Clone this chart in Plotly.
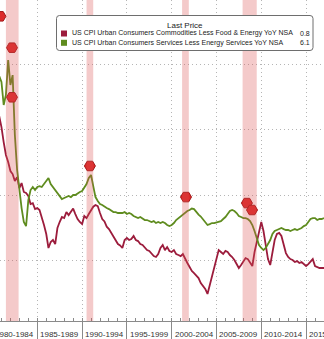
import pandas as pd
import plotly.graph_objects as go

# Quarterly observations, Q4 1980 through Q1 2017
quarters = pd.date_range("1980-10-01", periods=146, freq="QS")

# US CPI commodities less food & energy, YoY %
core_goods = [
    11.06, 10.22, 9.07, 8.08, 7.54, 6.85, 6.62, 6.09, 6.39, 5.55,
    5.93, 5.25, 5.17, 4.94, 4.33, 4.40, 3.94, 4.02, 3.87, 3.37,
    2.72, 2.03, 0.96, 1.42, 1.57, 1.26, 2.49, 2.95, 3.33, 3.25,
    3.71, 3.48, 3.74, 3.98, 3.56, 3.18, 2.95, 2.79, 3.41, 3.25,
    3.56, 3.87, 4.12, 4.25, 4.17, 3.64, 3.18, 2.99, 2.59, 2.41,
    2.11, 1.82, 1.53, 1.26, 1.15, 0.96, 1.57, 1.72, 1.57, 1.65,
    1.88, 1.57, 1.49, 1.26, 1.19, 0.96, 0.80, 0.73, 0.57, 0.34,
    0.27, 0.50, 0.96, 1.19, 0.80, 1.03, 0.73, 0.65, 0.80, 0.50,
    0.42, 0.34, 0.50, 0.11, -0.19, -0.50, -0.80, -0.96, -1.19, -1.34,
    -1.72, -1.95, -2.18, -2.56, -1.88, -1.11, -0.57, 0.19, 0.80, 0.65,
    0.50, 0.73, 0.65, 0.42, 0.27, 0.04, -0.27, -0.57, -0.34, -0.04,
    0.19, 0.11, -0.11, -0.42, 0.65, 1.49, 2.34, 2.95, 2.26, 1.26,
    0.11, -0.34, 0.80, 1.57, 2.03, 2.11, 1.88, 1.26, 0.57, 0.27,
    0.11, 0.04, -0.11, -0.04, -0.19, -0.11, -0.27, -0.42, -0.27, -0.11,
    0.11, -0.42, -0.50, -0.57, -0.57, -0.57,
]

# US CPI services less energy services, YoY %
core_services = [
    14.13, 13.67, 11.91, 12.67, 15.35, 13.44, 14.20, 9.61, 6.93, 5.40,
    4.02, 2.95, 2.64, 4.63, 5.40, 5.63, 5.40, 5.63, 5.70, 5.63,
    5.86, 6.09, 6.32, 5.86, 5.63, 5.40, 5.17, 4.86, 4.71, 4.79,
    4.86, 4.94, 4.86, 5.02, 5.02, 5.17, 5.25, 5.32, 5.55, 5.86,
    6.32, 6.55, 5.70, 4.86, 4.56, 4.33, 4.25, 4.10, 4.02, 3.94,
    3.79, 3.71, 3.71, 3.64, 3.64, 3.64, 3.71, 3.56, 3.64, 3.56,
    3.41, 3.33, 3.25, 3.33, 3.18, 3.10, 3.10, 3.02, 2.95, 3.02,
    2.87, 2.95, 2.87, 2.95, 2.87, 2.72, 2.64, 2.72, 2.87, 3.10,
    3.25, 3.41, 3.56, 3.71, 3.79, 3.87, 3.98, 3.94, 3.71, 3.52,
    3.37, 3.18, 2.95, 2.72, 2.79, 2.87, 2.87, 2.91, 2.95, 3.02,
    3.18, 3.33, 3.56, 3.79, 3.87, 3.79, 3.64, 3.41, 3.33, 3.25,
    3.25, 3.18, 3.02, 2.72, 2.26, 1.65, 1.19, 0.96, 0.80, 0.96,
    1.26, 1.57, 2.03, 2.26, 2.34, 2.41, 2.49, 2.41, 2.34, 2.34,
    2.26, 2.34, 2.41, 2.34, 2.41, 2.49, 2.64, 2.72, 2.95, 3.18,
    3.25, 3.25, 3.10, 3.18, 3.18, 3.25,
]

series_names = [
    "US CPI Urban Consumers Commodities Less Food & Energy YoY NSA",
    "US CPI Urban Consumers Services Less Energy Services YoY NSA",
]
last_values = ["0.8", "6.1"]

# NBER recessions
recession_starts = ["1980-01-01", "1981-07-01", "1990-07-01", "2001-03-01", "2007-12-01"]
recession_ends = ["1980-07-31", "1982-11-30", "1991-03-31", "2001-11-30", "2009-06-30"]

# Event flags on the chart
event_dates = ["1980-11-20", "1982-03-05", "1982-03-05", "1990-11-15",
               "2001-08-07", "2008-05-25", "2008-12-20"]
event_levels = [18.7, 16.3, 12.5, 7.24, 4.86, 4.40, 3.87]

period_starts = [1980, 1985, 1990, 1995, 2000, 2005, 2010, 2015]
period_labels = ["1980-1984", "1985-1989", "1990-1994", "1995-1999",
                 "2000-2004", "2005-2009", "2010-2014", "2015-2019"]

RED = "#9c1c3c"
GREEN = "#5f8c1f"
GRID = "#b5b5b5"
AXIS = "#8a8a8a"
FONT = "Liberation Sans, Arial, sans-serif"

W, H = 324, 339
BOTTOM = 18
PLOT_H = H - BOTTOM
X0, X1 = pd.Timestamp("1980-11-02"), pd.Timestamp("2017-01-01")
Y0, Y1 = -4.63, 19.95


def px(x):
    return x / W


def py(y):
    return (PLOT_H - y) / PLOT_H


fig = go.Figure()
fig.add_trace(go.Scatter(x=quarters, y=core_goods, mode="lines",
                         line=dict(color=RED, width=1.8), hoverinfo="skip"))
fig.add_trace(go.Scatter(x=quarters, y=core_services, mode="lines",
                         line=dict(color=GREEN, width=1.8), hoverinfo="skip"))
fig.add_trace(go.Scatter(x=pd.to_datetime(event_dates), y=event_levels, mode="markers",
                         marker=dict(symbol="hexagon2", size=11, color="#dc2a2a",
                                     line=dict(color="#a01818", width=1)),
                         hoverinfo="skip"))

shapes = []
for s, e in zip(recession_starts, recession_ends):
    shapes.append(dict(type="rect", xref="x", yref="paper", x0=s, x1=e, y0=0, y1=1,
                       fillcolor="rgba(220,80,80,0.3)", line=dict(width=0), layer="above"))

# Legend box
lx0, lx1, ly0, ly1, r = 56.5, 313, 15.5, 50.5, 3
rx, ry = r / W, r / PLOT_H
bx0, bx1, by0, by1 = px(lx0), px(lx1), py(ly1), py(ly0)
path = (f"M {bx0+rx},{by1} L {bx1-rx},{by1} Q {bx1},{by1} {bx1},{by1-ry} "
        f"L {bx1},{by0+ry} Q {bx1},{by0} {bx1-rx},{by0} L {bx0+rx},{by0} "
        f"Q {bx0},{by0} {bx0},{by0+ry} L {bx0},{by1-ry} Q {bx0},{by1} {bx0+rx},{by1} Z")
shapes.append(dict(type="path", xref="paper", yref="paper", path=path,
                   fillcolor="white", line=dict(color="#6e6e6e", width=1), layer="above"))

annotations = [dict(x=px(185.3), y=py(25), xref="paper", yref="paper", text="Last Price",
                    showarrow=False, xanchor="center", yanchor="middle",
                    font=dict(family=FONT, size=8, color="#222222"))]
for k, (name, val, col) in enumerate(zip(series_names, last_values, [RED, GREEN])):
    top = 30.5 + k * 9.3
    shapes.append(dict(type="rect", xref="paper", yref="paper",
                       x0=px(61), x1=px(67), y0=py(top + 6), y1=py(top),
                       fillcolor=col, line=dict(width=0), layer="above"))
    annotations.append(dict(x=px(70), y=py(top + 3), xref="paper", yref="paper", text=name,
                            showarrow=False, xanchor="left", yanchor="middle",
                            font=dict(family=FONT, size=7, color="#222222")))
    annotations.append(dict(x=px(311.5), y=py(top + 3), xref="paper", yref="paper", text=val,
                            showarrow=False, xanchor="right", yanchor="middle",
                            font=dict(family=FONT, size=7, color="#222222")))

# Period labels centred between the five-year ticks
span = (X1 - X0).total_seconds()
for y0, lab in zip(period_starts, period_labels):
    a, b = pd.Timestamp(year=y0, month=1, day=1), pd.Timestamp(year=y0 + 5, month=1, day=1)
    mid = a + (b - a) / 2
    annotations.append(dict(x=(mid - X0).total_seconds() / span, y=-13.5 / PLOT_H,
                            xref="paper", yref="paper", text=lab, showarrow=False,
                            xanchor="center", yanchor="middle",
                            font=dict(family=FONT, size=8, color="#333333")))

major_ticks = [pd.Timestamp(year=y, month=1, day=1) for y in period_starts]

fig.update_layout(
    width=W, height=H,
    margin=dict(l=0, r=0, t=0, b=BOTTOM, pad=0),
    paper_bgcolor="white", plot_bgcolor="white",
    showlegend=False,
    shapes=shapes, annotations=annotations,
    xaxis=dict(type="date", range=[X0, X1], tickvals=major_ticks,
               showticklabels=False, ticks="outside", ticklen=18, tickwidth=1,
               tickcolor=AXIS, showgrid=True, gridcolor=GRID, griddash="1px,3px",
               gridwidth=1, showline=True, linecolor=AXIS, linewidth=1,
               zeroline=False, fixedrange=True,
               minor=dict(ticks="inside", ticklen=3, tickcolor=AXIS, dtick="M12",
                          tick0="1980-01-01", showgrid=False)),
    yaxis=dict(range=[Y0, Y1], dtick=5, tick0=0, showticklabels=False, ticks="",
               showgrid=True, gridcolor=GRID, griddash="1px,3px", gridwidth=1,
               zeroline=False, showline=False, fixedrange=True),
)

fig.write_html("out.html")
